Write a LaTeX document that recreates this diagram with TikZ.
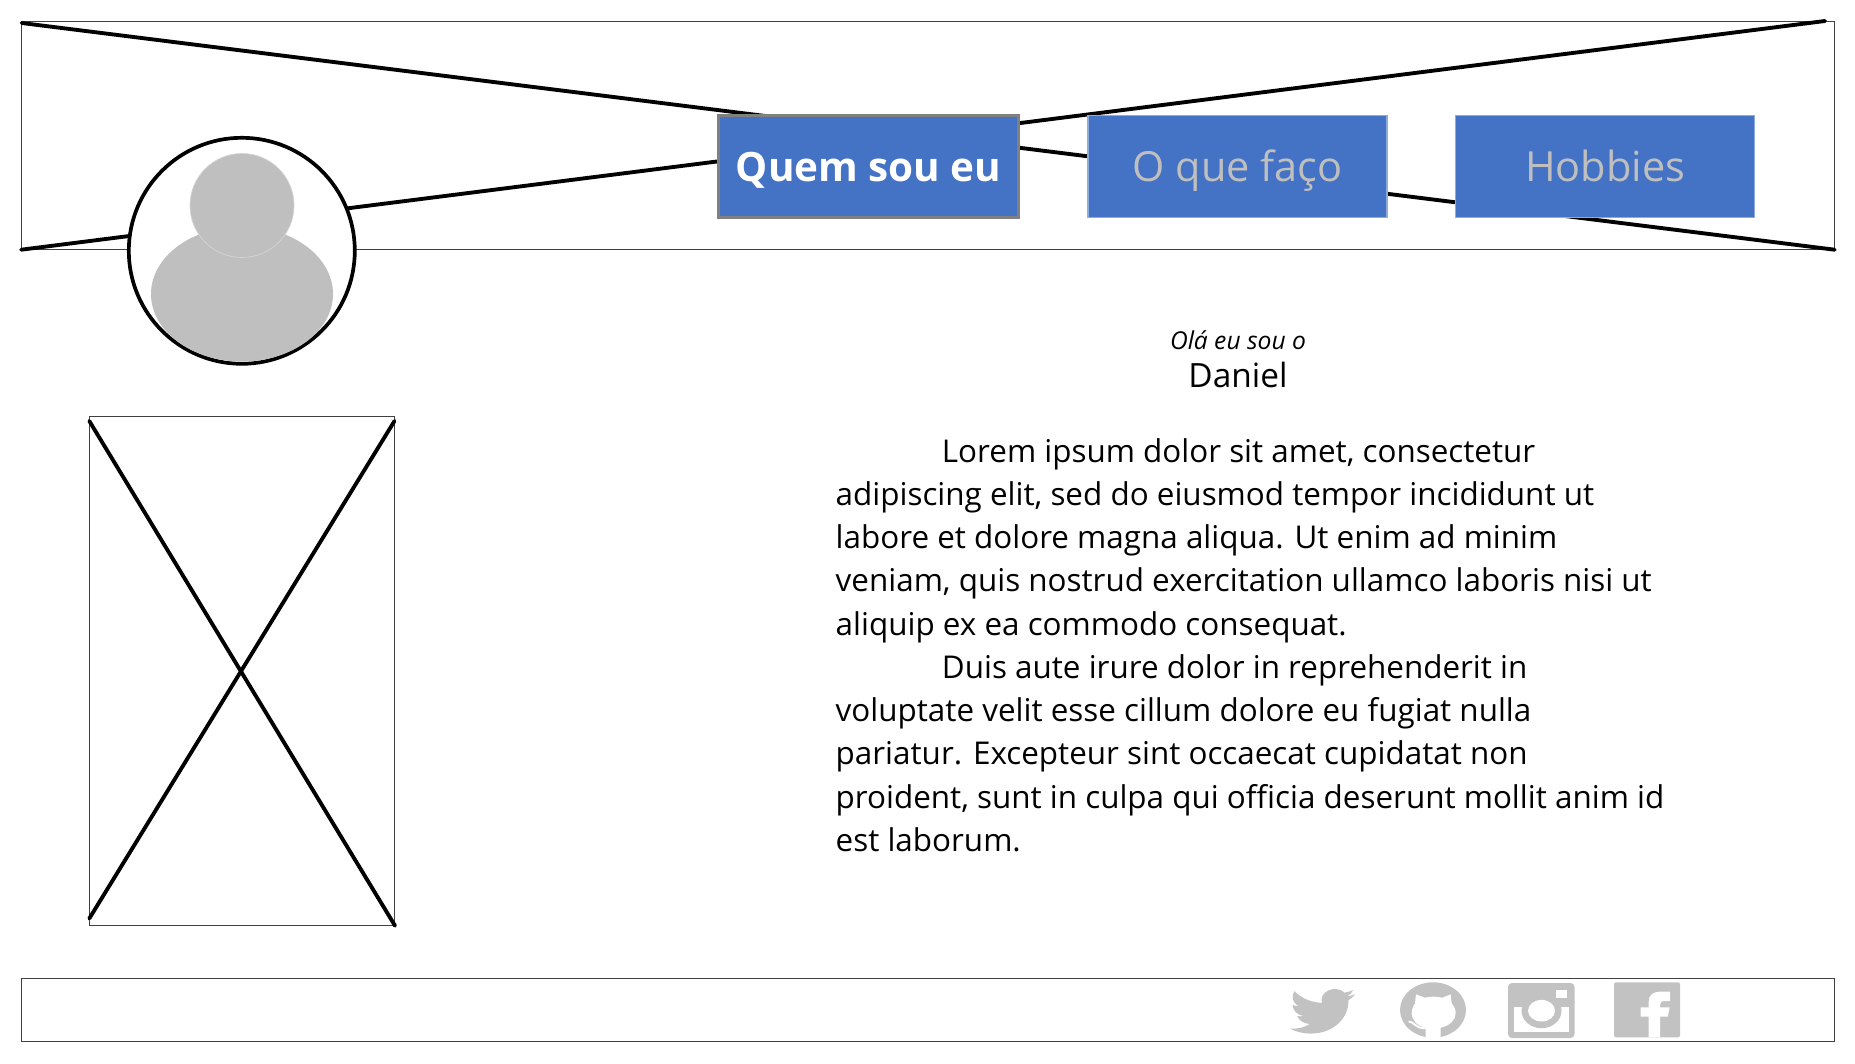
\documentclass[tikz,border=0pt]{standalone}
\usepackage{fontspec}
\setmainfont{Open Sans}
\definecolor{btnblue}{HTML}{4472C4}
\definecolor{btnedge}{HTML}{8FAADC}
\definecolor{icongray}{HTML}{C2C2C2}
\definecolor{figgray}{HTML}{BFBFBF}
\definecolor{thinline}{HTML}{404040}
\tikzset{
    thinbox/.style={draw=thinline,line width=0.3pt,inner sep=0pt},
    crossline/.style={line width=1.1pt,line cap=round},
    menubtn/.style={draw=btnedge,line width=0.3pt,fill=btnblue,inner sep=0pt,minimum width=299*0.01cm,minimum height=102*0.01cm,text=figgray,text height=8.4pt,text depth=0pt,font=\fontsize{11.8}{13}\selectfont},
}
\begin{document}
\begin{tikzpicture}[x=0.01cm,y=-0.01cm]
    \useasboundingbox (0,0) rectangle (1855,1064);

    % top bar
    \node[thinbox,minimum width=1812.5*0.01cm,minimum height=228*0.01cm] (header) at (927.9,135.2) {};
    \coordinate (hdrstart) at (21.6,23);
    \coordinate (hdrend) at (1825,21);
    \draw[crossline] (hdrstart) -- (header.south east);
    \draw[crossline] (header.south west) -- (hdrend);

    \node[menubtn,draw=gray,line width=0.85pt,text=white,minimum width=299.5*0.01cm,minimum height=102*0.01cm,font=\fontsize{11.5}{13}\selectfont\bfseries] (quem) at (868.7,166.5) {Quem sou eu};
    \node[menubtn] (oque) at (1237.5,166.5) {O que faço};
    \node[menubtn] (hobbies) at (1605.2,166.5) {Hobbies};

    % avatar
    \node[circle,draw,line width=1.05pt,fill=white,minimum size=226*0.01cm,inner sep=0pt] (avatar) at (241.8,250.8) {};
    \fill[figgray] (242,294) ellipse (91 and 67.5);
    \filldraw[fill=figgray,draw=icongray!70,line width=0.2pt] (242,205.5) ellipse (52 and 52);

    % picture placeholder
    \node[thinbox,minimum width=305*0.01cm,minimum height=508.5*0.01cm] (photo) at (242,671) {};
    \coordinate (photoa) at (89.3,421);
    \coordinate (photob) at (394.5,421);
    \coordinate (photoc) at (89.3,918.5);
    \draw[crossline] (photoa) -- (photo.south east);
    \draw[crossline] (photob) -- (photoc);

    % texts
    \node[font=\fontsize{7}{8}\selectfont\itshape] (hello) at (1238,340) {Olá eu sou o};
    \node[font=\fontsize{9.5}{11}\selectfont] (name) at (1238,375) {Daniel};
    \node[anchor=north west,inner sep=0pt,align=left,font=\fontsize{8.93}{12.3}\selectfont] (lorem) at (835,437.5) {\hspace{30.2pt}Lorem ipsum dolor sit amet, consectetur\\
adipiscing elit, sed do eiusmod tempor incididunt ut\\
labore et dolore magna aliqua. Ut enim ad minim\\
veniam, quis nostrud exercitation ullamco laboris nisi ut\\
aliquip ex ea commodo consequat.\\
\hspace{30.2pt}Duis aute irure dolor in reprehenderit in\\
voluptate velit esse cillum dolore eu fugiat nulla\\
pariatur. Excepteur sint occaecat cupidatat non\\
proident, sunt in culpa qui officia deserunt mollit anim id\\
est laborum.};

    % footer
    \node[thinbox,minimum width=1812.5*0.01cm,minimum height=63.5*0.01cm] (footer) at (927.9,1010) {};

    % twitter
    \begin{scope}[shift={(1290,984)},xscale=2.71,yscale=2.28]
        \fill[icongray] (23.953,4.57) .. controls (23.1,4.95) and (22.1,5.2) .. (21.128,5.345)
            .. controls (22.1,4.75) and (22.9,3.8) .. (23.291,2.622)
            .. controls (22.34,3.177) and (21.286,3.581) .. (20.164,3.806)
            .. controls (16.7,0.09) and (10.55,3.36) .. (11.78,8.288)
            .. controls (7.69,8.095) and (4.067,6.13) .. (1.64,3.162)
            .. controls (1.2,3.9) and (0.974,4.75) .. (0.974,5.637)
            .. controls (0.974,7.347) and (1.844,8.85) .. (3.162,9.733)
            .. controls (2.35,9.7) and (1.6,9.5) .. (0.934,9.117)
            -- (0.934,9.177)
            .. controls (0.934,11.55) and (2.63,13.56) .. (4.88,14.004)
            .. controls (4.17,14.19) and (3.4,14.23) .. (2.668,14.089)
            .. controls (3.3,16.08) and (5.15,17.46) .. (7.272,17.506)
            .. controls (5.6,18.83) and (3.5,19.611) .. (1.17,19.611)
            .. controls (0.78,19.611) and (0.391,19.588) .. (0,19.544)
            .. controls (2.15,20.93) and (4.74,21.753) .. (7.557,21.753)
            .. controls (16.61,21.753) and (21.555,14.257) .. (21.555,7.768)
            .. controls (21.555,7.558) and (21.555,7.348) .. (21.54,7.138)
            .. controls (22.5,6.44) and (23.33,5.57) .. (24,4.59) -- cycle;
    \end{scope}

    % github
    \fill[icongray] (1433,1010) ellipse (33 and 27.7);
    \begin{scope}[shift={(1280,975)},scale=0.3333]
        \fill[white] (437,190) -- (437,158) .. controls (410,152) and (395,135) .. (395,115)
            .. controls (395,102) and (400,92) .. (405,85) -- (408,58) -- (435,68)
            .. controls (450,64) and (470,64) .. (487,68) -- (512,58) -- (515,85)
            .. controls (522,92) and (527,102) .. (527,115)
            .. controls (527,135) and (510,152) .. (482,158) -- (482,190) -- cycle;
        \draw[white,line width=0.55pt] (386,139) .. controls (402,140) and (405,160) .. (437,160);
    \end{scope}

    % instagram
    \fill[icongray,rounded corners=4*0.01cm] (1508,983) rectangle (1574.5,1038);
    \fill[white] (1556,990) rectangle (1567,998.3);
    \fill[white] (1514,1006.7) rectangle (1569,1032.3);
    \fill[icongray] (1541.5,1010.7) ellipse (20 and 17.5);
    \fill[white] (1541.5,1010.7) ellipse (13.5 and 10.8);

    % facebook
    \fill[icongray,rounded corners=2*0.01cm] (1614,982.3) rectangle (1680,1037.3);
    \begin{scope}[shift={(1490,975)},scale=0.3333]
        \fill[white] (476,187) -- (476,125) -- (452,125) -- (452,97) -- (476,97) -- (476,80)
            .. controls (476,60) and (490,50) .. (510,50) -- (540,50) -- (540,78) -- (525,78)
            .. controls (515,78) and (510,82) .. (510,90) -- (510,97) -- (539,97) -- (533,125)
            -- (510,125) -- (510,187) -- cycle;
    \end{scope}
\end{tikzpicture}
\end{document}
